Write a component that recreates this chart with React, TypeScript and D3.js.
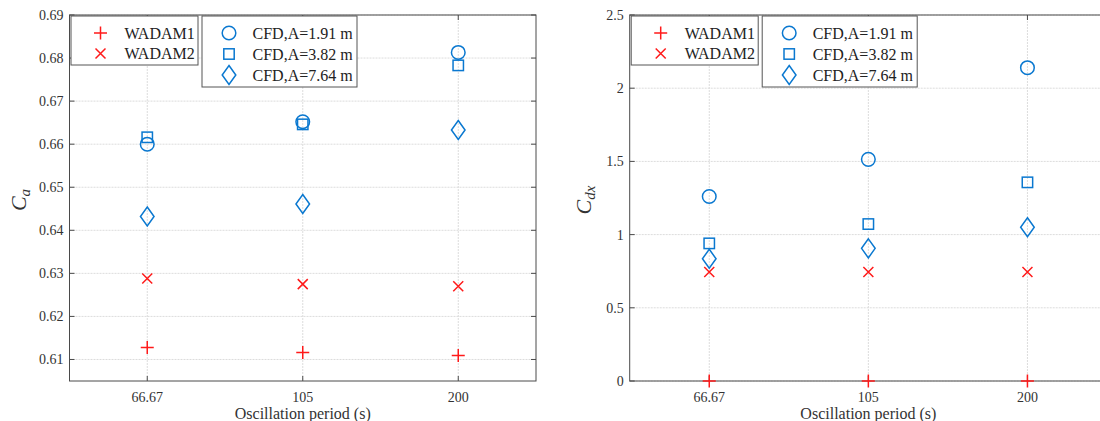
import React from "react";
import * as d3 from "d3";

const periods = ["66.67", "105", "200"];

// Left panel: added-mass coefficient Ca
const caWadam1 = [0.6128, 0.6116, 0.6109];
const caWadam2 = [0.6288, 0.6275, 0.627];
const caCfd191 = [0.66, 0.6652, 0.6813];
const caCfd382 = [0.6616, 0.6646, 0.6783];
const caCfd764 = [0.6432, 0.6461, 0.6633];
const caTicks = [0.61, 0.62, 0.63, 0.64, 0.65, 0.66, 0.67, 0.68, 0.69];

// Right panel: drag coefficient Cdx
const cdWadam1 = [0, 0, 0];
const cdWadam2 = [0.745, 0.745, 0.745];
const cdCfd191 = [1.26, 1.514, 2.14];
const cdCfd382 = [0.94, 1.072, 1.357];
const cdCfd764 = [0.835, 0.906, 1.05];
const cdTicks = [0, 0.5, 1, 1.5, 2, 2.5];

const legendLeft = ["WADAM1", "WADAM2"];
const legendRight = ["CFD,A=1.91 m", "CFD,A=3.82 m", "CFD,A=7.64 m"];

const RED = "#ff1a1a";
const BLUE = "#0a78d0";
const FONT = "'Liberation Serif', 'Times New Roman', serif";

type MarkerType = "plus" | "x" | "circle" | "square" | "diamond";

function Marker({ type, x, y }: { type: MarkerType; x: number; y: number }) {
  const sw = 1.5;
  if (type === "plus")
    return <path d={`M${x - 6.5},${y}H${x + 6.5}M${x},${y - 6.5}V${y + 6.5}`} stroke={RED} strokeWidth={sw} fill="none" />;
  if (type === "x")
    return <path d={`M${x - 5},${y - 5}L${x + 5},${y + 5}M${x - 5},${y + 5}L${x + 5},${y - 5}`} stroke={RED} strokeWidth={sw} fill="none" />;
  if (type === "circle") return <circle cx={x} cy={y} r={6.8} stroke={BLUE} strokeWidth={sw} fill="none" />;
  if (type === "square") return <rect x={x - 5.2} y={y - 5.2} width={10.4} height={10.4} stroke={BLUE} strokeWidth={sw} fill="none" />;
  return <path d={`M${x},${y - 9.5}L${x + 6.8},${y}L${x},${y + 9.5}L${x - 6.8},${y}Z`} stroke={BLUE} strokeWidth={sw} fill="none" />;
}

interface PanelProps {
  left: number;
  right: number;
  domain: [number, number];
  ticks: number[];
  fmt: (v: number) => string;
  series: { type: MarkerType; values: number[] }[];
  labelSub: string;
  labelX: number;
}

const TOP = 15;
const BOTTOM = 381;

function Panel({ left, right, domain, ticks, fmt, series, labelSub, labelX }: PanelProps) {
  const x = d3.scalePoint<string>().domain(periods).range([left, right]).padding(0.5);
  const y = d3.scaleLinear().domain(domain).range([BOTTOM, TOP]);
  const axisColor = "#4a4a4a";
  const textColor = "#333";
  const midX = (left + right) / 2;
  return (
    <g>
      {/* grid */}
      {ticks.map((t) => (
        <line key={"gy" + t} x1={left} x2={right} y1={y(t)} y2={y(t)} stroke="#dcdcdc" strokeWidth={1} strokeDasharray="2,1" />
      ))}
      {periods.map((p) => (
        <line key={"gx" + p} x1={x(p)} x2={x(p)} y1={TOP} y2={BOTTOM} stroke="#dcdcdc" strokeWidth={1} strokeDasharray="2,1" />
      ))}
      {/* ticks */}
      {ticks.map((t) => (
        <g key={"ty" + t}>
          <line x1={left} x2={left + 5} y1={y(t)} y2={y(t)} stroke={axisColor} />
          <line x1={right} x2={right - 5} y1={y(t)} y2={y(t)} stroke={axisColor} />
          <text x={left - 6} y={y(t)} dy="0.35em" textAnchor="end" fontSize={14} fill={textColor} fontFamily={FONT}>
            {fmt(t)}
          </text>
        </g>
      ))}
      {periods.map((p) => (
        <g key={"tx" + p}>
          <line x1={x(p)} x2={x(p)} y1={BOTTOM} y2={BOTTOM - 5} stroke={axisColor} />
          <line x1={x(p)} x2={x(p)} y1={TOP} y2={TOP + 5} stroke={axisColor} />
          <text x={x(p)} y={BOTTOM + 16} dy="0.35em" textAnchor="middle" fontSize={14} fill={textColor} fontFamily={FONT}>
            {p}
          </text>
        </g>
      ))}
      {/* frame */}
      <rect x={left} y={TOP} width={right - left} height={BOTTOM - TOP} fill="none" stroke={axisColor} strokeWidth={1} />
      {/* axis labels */}
      <text x={midX} y={BOTTOM + 32} dy="0.35em" textAnchor="middle" fontSize={16} fill={textColor} fontFamily={FONT}>
        Oscillation period (s)
      </text>
      <text
        transform={`translate(${labelX},${(TOP + BOTTOM) / 2 + 2}) rotate(-90)`}
        textAnchor="middle"
        fill={textColor}
        fontFamily={FONT}
      >
        <tspan fontSize={22} fontStyle="italic">C</tspan>
        <tspan fontSize={15} fontStyle="italic" dy={4}>{labelSub}</tspan>
      </text>
      {/* data */}
      {series.map((s, si) =>
        s.values.map((v, i) => <Marker key={si + "-" + i} type={s.type} x={x(periods[i]) as number} y={y(v)} />)
      )}
      {/* legends */}
      <g>
        <rect x={left + 1.5} y={16} width={127} height={49} fill="white" stroke="#555" strokeWidth={1} />
        {legendLeft.map((t, i) => (
          <g key={t}>
            <Marker type={i === 0 ? "plus" : "x"} x={left + 31} y={33 + i * 20.5} />
            <text x={left + 55} y={33 + i * 20.5} dy="0.35em" fontSize={16} fill="#222" fontFamily={FONT}>
              {t}
            </text>
          </g>
        ))}
        <rect x={left + 132.5} y={16} width={155} height={71} fill="white" stroke="#555" strokeWidth={1} />
        {legendRight.map((t, i) => (
          <g key={t}>
            <Marker type={(["circle", "square", "diamond"] as MarkerType[])[i]} x={left + 159.5} y={33 + i * 21} />
            <text x={left + 183} y={33 + i * 21} dy="0.35em" fontSize={16} fill="#222" fontFamily={FONT}>
              {t}
            </text>
          </g>
        ))}
      </g>
    </g>
  );
}

export default function App() {
  return (
    <svg width={1100} height={421} style={{ position: "absolute", left: 0, top: 0, background: "white" }}>
      <rect x={0} y={0} width={1100} height={421} fill="white" />
      <Panel
        left={69.5}
        right={536}
        domain={[0.605, 0.69]}
        ticks={caTicks}
        fmt={(v) => v.toFixed(2)}
        series={[
          { type: "plus", values: caWadam1 },
          { type: "x", values: caWadam2 },
          { type: "circle", values: caCfd191 },
          { type: "square", values: caCfd382 },
          { type: "diamond", values: caCfd764 },
        ]}
        labelSub="a"
        labelX={26}
      />
      <Panel
        left={629.7}
        right={1107}
        domain={[0, 2.5]}
        ticks={cdTicks}
        fmt={(v) => String(v)}
        series={[
          { type: "plus", values: cdWadam1 },
          { type: "x", values: cdWadam2 },
          { type: "circle", values: cdCfd191 },
          { type: "square", values: cdCfd382 },
          { type: "diamond", values: cdCfd764 },
        ]}
        labelSub="dx"
        labelX={591}
      />
    </svg>
  );
}
